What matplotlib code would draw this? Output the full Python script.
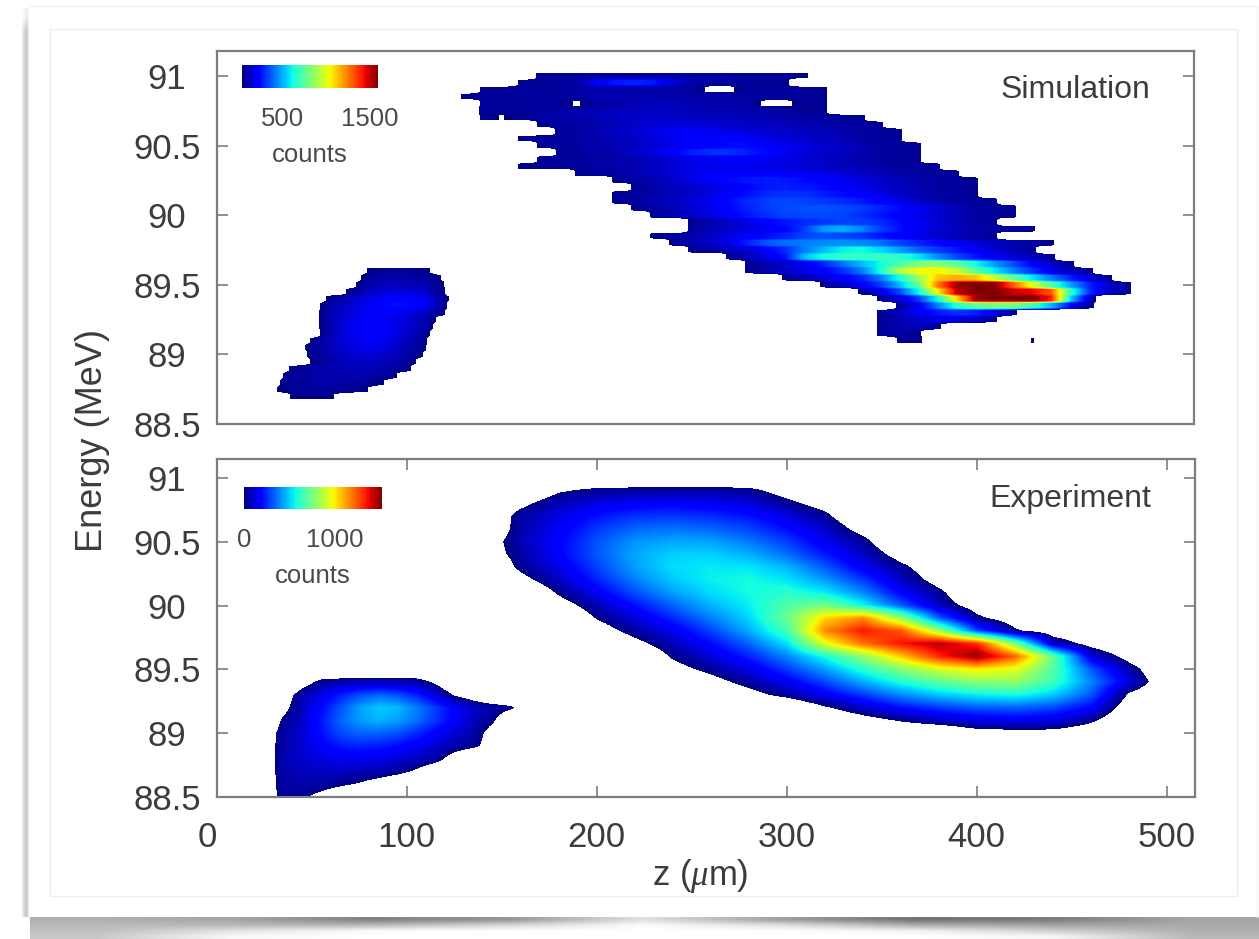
import numpy as np
import matplotlib
matplotlib.use('Agg')
import matplotlib.pyplot as plt
from matplotlib.colors import Normalize

plt.rcParams['font.family'] = ['Liberation Sans', 'DejaVu Sans']
plt.rcParams['mathtext.fontset'] = 'custom'
plt.rcParams['mathtext.it'] = 'Liberation Serif:italic'
plt.rcParams['mathtext.rm'] = 'Liberation Sans'

W, H = 1259, 939
TXT = '#3c3c3c'
EDGE = '#7d7d7d'

yticks = [88.5, 89, 89.5, 90, 90.5, 91]
ylabels = ['88.5', '89', '89.5', '90', '90.5', '91']
xticks = [0, 100, 200, 300, 400, 500]

# simulation, main bunch: energy of each row, z of first cell, counts every 10 um
sim_main_e = [91.0, 90.95, 90.9, 90.85, 90.8, 90.75, 90.7, 90.65, 90.6, 90.55, 90.5, 90.45, 90.4, 90.35,
              90.3, 90.25, 90.2, 90.15, 90.1, 90.05, 90.0, 89.95, 89.9, 89.85, 89.8, 89.75, 89.7, 89.65,
              89.6, 89.55, 89.5, 89.45, 89.4, 89.35, 89.3, 89.25, 89.2, 89.15, 89.1]
sim_main_z0 = [170, 160, 140, 130, 140, 140, 140, 170, 180, 160, 170, 180, 170, 160,
               190, 210, 220, 210, 210, 220, 230, 250, 250, 230, 240, 250, 270, 280,
               280, 300, 320, 340, 350, 360, 350, 350, 350, 350, 360]
sim_main = [
    [70, 70, 70, 70, 70, 70, 80, 90, 90, 90, 80, 70, 70, 70, 60],
    [60, 60, 70, 80, 200, 260, 280, 260, 150, 90, 80, 70, 70, 60, 60],
    [60, 60, 70, 70, 70, 80, 90, 90, 90, 90, 80, 80, 10, 10, 80, 70, 70, 70, 60],
    [60, 70, 70, 70, 70, 80, 90, 100, 100, 100, 90, 90, 90, 90, 80, 80, 70, 70, 70, 60],
    [60, 70, 70, 70, 70, 20, 80, 90, 100, 110, 110, 100, 90, 90, 80, 10, 10, 70, 60],
    [70, 70, 70, 80, 80, 90, 100, 110, 120, 120, 120, 110, 100, 100, 90, 80, 70, 60, 60],
    [60, 25, 60, 80, 90, 100, 110, 130, 140, 140, 130, 120, 120, 110, 100, 100, 90, 80, 70, 70, 60],
    [60, 70, 80, 90, 110, 130, 150, 160, 160, 150, 140, 130, 120, 110, 100, 90, 80, 70, 60],
    [70, 80, 100, 120, 140, 170, 190, 200, 190, 170, 150, 140, 130, 120, 110, 100, 80, 70, 60],
    [60, 70, 70, 80, 90, 110, 130, 160, 190, 220, 230, 220, 200, 170, 150, 130, 120, 100, 80, 70, 60],
    [60, 70, 80, 90, 100, 120, 150, 170, 200, 220, 240, 240, 220, 190, 160, 140, 120, 100, 80, 70, 60],
    [60, 70, 90, 100, 130, 170, 220, 270, 300, 300, 270, 230, 190, 160, 140, 120, 100, 80, 70, 60],
    [60, 70, 70, 80, 90, 100, 120, 150, 180, 190, 200, 200, 190, 170, 150, 130, 110, 90, 80, 70, 60],
    [60, 60, 70, 70, 80, 90, 100, 120, 150, 170, 180, 180, 180, 170, 160, 150, 130, 110, 100, 80, 70, 70, 60],
    [60, 70, 80, 100, 120, 150, 180, 200, 210, 220, 210, 200, 190, 170, 150, 130, 110, 90, 80, 70, 60],
    [60, 80, 100, 130, 170, 210, 240, 260, 270, 260, 240, 210, 180, 160, 130, 110, 90, 80, 70, 60],
    [60, 90, 110, 130, 160, 190, 230, 260, 270, 260, 240, 200, 170, 140, 120, 100, 80, 70, 60],
    [60, 70, 90, 110, 130, 170, 210, 250, 290, 300, 300, 270, 240, 210, 170, 130, 100, 80, 70, 60],
    [60, 70, 100, 120, 150, 190, 240, 290, 320, 340, 330, 310, 290, 260, 220, 180, 130, 100, 80, 70, 60],
    [60, 80, 110, 140, 180, 230, 280, 320, 340, 350, 350, 340, 320, 280, 240, 190, 150, 110, 80, 70, 60],
    [70, 100, 130, 170, 210, 260, 300, 330, 340, 340, 330, 300, 260, 210, 180, 140, 110, 80, 70, 60],
    [60, 90, 130, 180, 220, 260, 290, 310, 330, 320, 290, 240, 190, 150, 110, 80, 60],
    [70, 100, 130, 160, 190, 230, 320, 470, 500, 430, 320, 250, 190, 150, 120, 100, 80, 70, 60],
    [60, 80, 100, 130, 170, 210, 240, 280, 330, 350, 340, 310, 260, 210, 170, 130, 100, 80, 60],
    [60, 90, 130, 180, 280, 360, 400, 420, 440, 450, 440, 400, 330, 280, 230, 190, 150, 120, 100, 80, 60],
    [60, 80, 110, 150, 210, 300, 420, 520, 600, 620, 560, 470, 380, 320, 260, 200, 150, 100, 70],
    [60, 110, 170, 260, 520, 640, 670, 680, 680, 660, 580, 450, 340, 260, 190, 150, 110, 70],
    [60, 100, 140, 190, 280, 400, 520, 620, 720, 820, 840, 760, 620, 470, 340, 220, 120, 70],
    [60, 90, 130, 170, 220, 300, 420, 640, 920, 1040, 1050, 960, 760, 580, 430, 300, 190, 110, 70],
    [70, 110, 150, 210, 280, 420, 640, 880, 1120, 1170, 1130, 950, 760, 580, 410, 280, 150, 70],
    [70, 120, 200, 320, 520, 780, 1250, 1560, 1600, 1580, 1300, 1000, 720, 480, 280, 140, 70],
    [80, 170, 340, 620, 1050, 1500, 1600, 1600, 1500, 1450, 1300, 700, 300, 130, 70],
    [70, 150, 320, 620, 1100, 1550, 1600, 1600, 1600, 1400, 560, 130],
    [80, 190, 420, 660, 760, 800, 800, 700, 500, 230, 80],
    [70, 120, 200, 260, 300, 280, 180, 70],
    [70, 100, 140, 170, 170, 120, 60],
    [70, 100, 110, 70],
    [70, 80, 60],
    [60, 60, -100, -100, -100, -100, -100, 45],
]

# simulation, trailing bunch
sim_tail_e = [89.6, 89.55, 89.5, 89.45, 89.4, 89.35, 89.3, 89.25, 89.2, 89.15, 89.1, 89.05, 89.0,
              88.95, 88.9, 88.85, 88.8, 88.75, 88.7]
sim_tail_z0 = [70, 70, 70, 60, 50, 50, 50, 50, 50, 50, 40, 40, 40, 40, 30, 30, 30, 30, 30]
sim_tail = [
    [-80, 40, 60, 60, 50, -30],
    [-50, 80, 90, 90, 80, 20],
    [-5, 90, 110, 110, 100, 30],
    [-60, 50, 120, 150, 160, 130, 40],
    [-60, 60, 110, 170, 210, 220, 190, 50, -40],
    [-20, 90, 140, 200, 240, 240, 200, 60],
    [-20, 100, 150, 200, 210, 180, 130, 40],
    [-20, 100, 170, 210, 190, 150, 100, -30],
    [-20, 100, 180, 220, 200, 150, 90, -60],
    [-30, 100, 170, 210, 200, 140, 70, -80],
    [-60, 40, 110, 170, 200, 180, 120, 50],
    [-30, 60, 110, 160, 180, 160, 100, 40],
    [-40, 50, 100, 140, 150, 130, 90, 20],
    [-60, 40, 90, 120, 130, 110, 70, -10],
    [-50, 50, 80, 100, 110, 110, 90, 50, -40],
    [-10, 70, 80, 90, 100, 90, 70, -10],
    [10, 70, 80, 90, 80, 70, 20, -60],
    [20, 70, 70, 70, 60, 30, -40],
    [-40, 40, 50, 40, -10, -70],
]

# experiment, main bunch: counts every 20 um
exp_main_e = [90.9, 90.8, 90.7, 90.6, 90.5, 90.4, 90.3, 90.2, 90.1, 90.0, 89.9, 89.8, 89.7, 89.6,
              89.5, 89.4, 89.3, 89.2, 89.1, 89.0]
exp_main_z0 = [180, 160, 160, 160, 140, 140, 160, 160, 180, 180, 200, 200, 220, 240, 240, 260, 280, 320, 340, 400]
exp_main = [
    [-20, 30, 40, 40, 50, 30, -60],
    [-40, 80, 130, 160, 170, 150, 120, 30, -60],
    [50, 130, 210, 260, 270, 250, 210, 130, 30],
    [60, 160, 270, 340, 360, 340, 290, 200, 100, -60],
    [-80, 70, 180, 310, 410, 440, 430, 370, 280, 150, 40],
    [-80, 50, 180, 320, 440, 500, 500, 450, 350, 220, 90, -60],
    [30, 140, 290, 430, 520, 540, 530, 460, 320, 160, 30, -100],
    [-40, 90, 240, 380, 490, 550, 570, 530, 420, 270, 90, -60],
    [20, 160, 310, 430, 520, 570, 600, 540, 390, 180, 30],
    [-60, 70, 210, 340, 460, 550, 680, 740, 560, 320, 80, -80],
    [10, 120, 250, 380, 510, 720, 1030, 1150, 800, 330, 30, -90],
    [-70, 50, 150, 290, 450, 660, 1160, 1340, 1240, 820, 300, 20, -90],
    [-40, 80, 200, 340, 530, 950, 1200, 1350, 1440, 1300, 760, 100, -60],
    [20, 120, 240, 390, 580, 800, 1060, 1320, 1500, 1220, 720, 130, -60],
    [-50, 40, 140, 280, 430, 610, 780, 930, 1000, 950, 680, 320, 60],
    [-50, 50, 160, 300, 450, 590, 700, 790, 800, 640, 390, 130, -120],
    [-50, 50, 160, 280, 400, 490, 550, 580, 500, 320, -20],
    [-10, 100, 210, 280, 330, 340, 300, 190, -100],
    [-60, 20, 90, 140, 160, 140, 30],
    [-60, -50, -50, -100],
]

# experiment, trailing bunch: counts every 10 um
exp_tail_e = [89.4, 89.3, 89.2, 89.1, 89.0, 88.9, 88.8, 88.7, 88.6, 88.5]
exp_tail_z0 = [45, 35, 35, 25, 25, 25, 25, 25, 25, 25]
exp_tail = [
    [-60, 40, 60, 80, 80, 70, 60, -20],
    [-70, 60, 140, 230, 300, 340, 310, 240, 120, -10, -80],
    [-40, 90, 200, 310, 430, 490, 470, 380, 280, 180, 100, 60, 20, -100],
    [-120, 20, 100, 220, 340, 420, 460, 430, 360, 270, 170, 90, 20, -120],
    [-80, 50, 110, 210, 300, 340, 340, 310, 250, 180, 110, 60, -50],
    [-80, 60, 110, 170, 220, 240, 230, 200, 160, 110, 60, 30, -60],
    [-80, 70, 100, 130, 150, 150, 140, 120, 90, 50, -60],
    [-80, 60, 80, 90, 90, 80, 70, 40, -20, -100],
    [-80, 50, 60, 50, 20, -10, -60, -120],
    [-80, 40, 20, -40, -100],
]

# grey levels of the drop shadow under the card
shadow_x = [30, 160, 320, 480, 640, 800, 960, 1100, 1259]
shadow_y = [917, 939]
shadow_grey = [
    [175, 165, 130, 150, 225, 160, 115, 125, 165],
    [185, 185, 185, 215, 250, 225, 175, 165, 170],
    [190, 225, 250, 253, 255, 253, 240, 205, 175],
    [200, 248, 255, 255, 255, 255, 255, 245, 185],
]


def px_axes(x0, y0, x1, y1):
    return fig.add_axes([x0 / W, 1 - y1 / H, (x1 - x0) / W, (y1 - y0) / H])


def draw_map(ax, energies, starts, rows, step, norm, cmap, streak=1):
    z_lo = min(starts)
    z_hi = max(s + step * (len(r) - 1) for s, r in zip(starts, rows))
    grid = np.full((len(rows), int((z_hi - z_lo) / step) + 1), -150.0)
    for i, (s, r) in enumerate(zip(starts, rows)):
        j = int((s - z_lo) / step)
        grid[i, j:j + len(r)] = r
    grid = np.pad(grid, 1, constant_values=-150.0)
    # streak > 1 keeps each energy row as a flat band, so edges stay jagged
    grid = np.repeat(grid, streak, axis=0)
    de = abs(energies[1] - energies[0])
    ext = (z_lo - 1.5 * step, z_hi + 1.5 * step, min(energies) - 1.5 * de, max(energies) + 1.5 * de)
    return ax.imshow(grid, extent=ext, origin='upper', aspect='auto', cmap=cmap, norm=norm,
                     interpolation='bilinear', interpolation_stage='data', zorder=2)


def style_axes(ax, top_ticks):
    ax.set_xlim(0, 515)
    ax.set_yticks(yticks)
    ax.set_yticklabels(ylabels, ha='center')
    ax.tick_params(axis='y', which='both', direction='in', left=True, right=True, length=8, width=1.2,
                   color=EDGE, labelsize=25, labelcolor=TXT, pad=36)
    for s in ax.spines.values():
        s.set_color(EDGE)
        s.set_linewidth(1.6)
    if top_ticks:
        ax.set_xticks(xticks)
        ax.tick_params(axis='x', direction='in', top=True, bottom=True, length=8, width=1.2,
                       color=EDGE, labelsize=25, labelcolor=TXT, pad=17)
        ax.get_xticklabels()[0].set_ha('right')
    else:
        ax.set_xticks([])


def add_bar(im, x0, y0, x1, y1, ticks, label):
    cax = px_axes(x0, y0, x1, y1)
    cb = fig.colorbar(im, cax=cax, orientation='horizontal', ticks=ticks)
    cb.outline.set_visible(False)
    cb.ax.tick_params(length=0, labelsize=18.5, labelcolor='#4a4a4a', pad=14)
    cb.set_label(label, fontsize=18.5, color='#4a4a4a', labelpad=8)


fig = plt.figure(figsize=(W / 100, H / 100), dpi=100, facecolor='white')

# card, inner frame and shadow behind the plot
bg = fig.add_axes([0, 0, 1, 1], zorder=-1)
bg.axis('off')
bg.imshow(shadow_grey, extent=(shadow_x[0], shadow_x[-1], shadow_y[-1], shadow_y[0]), cmap='gray', vmin=0, vmax=255,
          aspect='auto', interpolation='bilinear')
bg.imshow([[255, 215, 200, 255]] * 2, extent=(20, 31, 917, 40), cmap='gray', vmin=0, vmax=255, aspect='auto',
          interpolation='bilinear')
bg.imshow([[255, 250, 235, 255], [255, 215, 200, 255]], extent=(20, 31, 40, 8), cmap='gray', vmin=0, vmax=255,
          aspect='auto', interpolation='bilinear')
bg.plot([50, 1237, 1237, 50, 50], [29, 29, 896, 896, 29], color='#efefef', lw=1.0)
bg.plot([30, 1257, 1257], [6, 6, 917], color='#f3f3f3', lw=1.0)
bg.set_xlim(0, W)
bg.set_ylim(H, 0)

cmap = plt.get_cmap('jet').copy()
cmap.set_under((1, 1, 1, 0))

# Simulation panel
ax1 = px_axes(217, 51, 1194, 424)
sim_norm = Normalize(30, 1600)
im1 = draw_map(ax1, sim_main_e, sim_main_z0, sim_main, 10, sim_norm, cmap, streak=3)
draw_map(ax1, sim_tail_e, sim_tail_z0, sim_tail, 10, sim_norm, cmap, streak=3)
style_axes(ax1, False)
ax1.set_ylim(88.5, 91.18)
ax1.text(492, 90.9, 'Simulation', ha='right', va='center', fontsize=23, color=TXT)
add_bar(im1, 242, 65, 378, 88, [500, 1500], 'counts')

# Experiment panel
ax2 = px_axes(217, 459, 1195, 797)
exp_norm = Normalize(0, 1515)
im2 = draw_map(ax2, exp_main_e, exp_main_z0, exp_main, 20, exp_norm, cmap)
draw_map(ax2, exp_tail_e, exp_tail_z0, exp_tail, 10, exp_norm, cmap)
style_axes(ax2, True)
ax2.set_ylim(88.5, 91.15)
ax2.text(492, 90.84, 'Experiment', ha='right', va='center', fontsize=23, color=TXT)
add_bar(im2, 244, 487, 382, 509, [0, 1000], 'counts')

fig.text(92 / W, 1 - 440 / H, 'Energy (MeV)', rotation=90, ha='center', va='center', fontsize=26, color=TXT)
fig.text(700 / W, 1 - 876 / H, r'z ($\mathit{\mu}$m)', ha='center', va='center', fontsize=25, color=TXT)

fig.savefig('out.png', dpi=100, facecolor='white')
